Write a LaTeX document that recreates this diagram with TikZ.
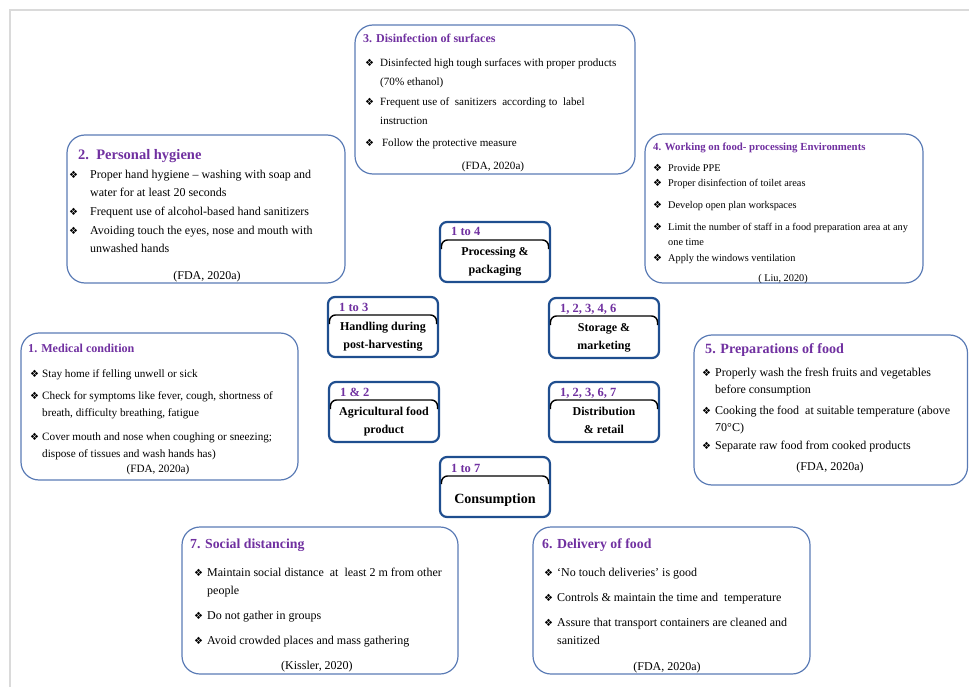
\documentclass[tikz,border=0pt]{standalone}
\usepackage{fontspec}
\setmainfont{Liberation Serif}
\newfontfamily\dingfont{DejaVu Sans}
\usepackage{xcolor}
\usetikzlibrary{positioning}
\definecolor{ttl}{HTML}{7030A0}
\definecolor{pnl}{HTML}{5A7BB5}
\definecolor{stg}{HTML}{1F4E8F}
\definecolor{frm}{HTML}{DADADA}
\newcommand{\dia}{{\dingfont\fontsize{10}{10}\selectfont\char"2756}}
\newcommand{\fs}[2]{\fontsize{#1}{#2}\selectfont}
\newcommand{\lines}[2]{\begin{tabular}[t]{@{}#1@{}}#2\end{tabular}}

\begin{document}
\begin{tikzpicture}[x=1pt,y=-1pt,
  panel/.style={draw=pnl,line width=1.2pt,rounded corners=18pt},
  ttlnode/.style={anchor=base west,inner sep=0pt,text=ttl,font=\bfseries#1},
  dia/.style={anchor=base west,inner sep=0pt},
  itm/.style={anchor=base west,inner sep=0pt,font=#1},
  src/.style={anchor=base,inner sep=0pt,font=#1},
  stage/.style={draw=stg,line width=2.2pt,rounded corners=7pt},
  sep/.style={draw=black,line width=1.4pt,rounded corners=6pt},
  lbl/.style={anchor=base west,inner sep=0pt,text=ttl,font=\bfseries\fs{12.5}{14}},
  stgname/.style={anchor=base,inner sep=0pt,font=\bfseries\fs{12}{18.5}}]
\useasboundingbox (0,0) rectangle (969,687);
\draw[frm,line width=1.5pt] (10,687) -- (10,10) -- (969,10);

% 3. DISINFECTION
\draw[panel] (355,25) rectangle (635,174);
\node[ttlnode=\fs{12}{14}] (p3h) at (363,43) {3. Disinfection of surfaces};
\foreach \k/\yy/\txt in {1/67/{Disinfected high tough surfaces with proper products\\(70\% ethanol)},
  2/106/{Frequent use of \ sanitizers \ according to \ label\\instruction},
  3/147/{\,Follow the protective measure}}{
  \node[dia] (p3b\k) at (365,\yy) {\dia};
  \node[itm=\fs{11.1}{18.5}] (p3t\k) at (380,\yy) {\lines{l}{\txt}};
}
\node[src=\fs{11.1}{14}] (p3s) at (493,170) {(FDA, 2020a)};

% 2. PERSONAL HYGIENE
\draw[panel] (67,135) rectangle (345,283);
\node[ttlnode=\fs{14.5}{16}] (p2h) at (78,160) {2.\ \ Personal hygiene};
\foreach \k/\yy/\txt in {1/179/{Proper hand hygiene -- washing with soap and\\water for at least 20 seconds},
  2/216/{Frequent use of alcohol-based hand sanitizers},
  3/234/{Avoiding touch the eyes, nose and mouth with\\unwashed hands}}{
  \node[dia] (p2b\k) at (69,\yy) {\dia};
  \node[itm=\fs{12}{18}] (p2t\k) at (90,\yy) {\lines{l}{\txt}};
}
\node[src=\fs{12}{14}] (p2s) at (207,279) {(FDA, 2020a)};

% 4. WORKING ENVIRONMENTS
\draw[panel] (645,134) rectangle (923,283);
\node[ttlnode=\fs{10.8}{12}] (p4h) at (653,151) {4. Working on food- processing Environments};
\foreach \k/\yy/\txt in {1/172/{Provide PPE},
  2/187/{Proper disinfection of toilet areas},
  3/209/{Develop open plan workspaces},
  4/231/{Limit the number of staff in a food preparation area at any\\one time},
  5/261/{Apply the windows ventilation}}{
  \node[dia] (p4b\k) at (653,\yy) {\dia};
  \node[itm=\fs{10.3}{14}] (p4t\k) at (668,\yy) {\lines{l}{\txt}};
}
\node[src=\fs{10.3}{12}] (p4s) at (783,281) {( Liu, 2020)};

% 1. MEDICAL CONDITION
\draw[panel] (21,333) rectangle (298,480);
\node[ttlnode=\fs{12.1}{14}] (p1h) at (28,352) {1. Medical condition};
\foreach \k/\yy/\txt in {1/377/{Stay home if felling unwell or sick},
  2/399/{Check for symptoms like fever, cough, shortness of\\breath, difficulty breathing, fatigue},
  3/440/{Cover mouth and nose when coughing or sneezing;\\dispose of tissues and wash hands has)}}{
  \node[dia] (p1b\k) at (30,\yy) {\dia};
  \node[itm=\fs{11.2}{17}] (p1t\k) at (42,\yy) {\lines{l}{\txt}};
}
\node[src=\fs{11.2}{13}] (p1s) at (158,472) {(FDA, 2020a)};

% 5. PREPARATIONS
\draw[panel] (694,335) rectangle (967.5,485);
\node[ttlnode=\fs{14.1}{16}] (p5h) at (705,353) {5. Preparations of food};
\foreach \k/\yy/\txt in {1/376/{Properly wash the fresh fruits and vegetables\\before consumption},
  2/414/{Cooking the food \ at suitable temperature (above\\70°C)},
  3/449/{Separate raw food from cooked products}}{
  \node[dia] (p5b\k) at (702,\yy) {\dia};
  \node[itm=\fs{12}{17}] (p5t\k) at (715,\yy) {\lines{l}{\txt}};
}
\node[src=\fs{12}{14}] (p5s) at (830,470) {(FDA, 2020a)};

% 7. SOCIAL DISTANCING
\draw[panel] (182,527) rectangle (458,674);
\node[ttlnode=\fs{13.8}{16}] (p7h) at (190,548) {7. Social distancing};
\foreach \k/\yy/\txt in {1/576/{Maintain social distance \ at \ least 2 m from other\\people},
  2/619/{Do not gather in groups},
  3/644/{Avoid crowded places and mass gathering}}{
  \node[dia] (p7b\k) at (194,\yy) {\dia};
  \node[itm=\fs{12}{18}] (p7t\k) at (207,\yy) {\lines{l}{\txt}};
}
\node[src=\fs{12}{14}] (p7s) at (317,669) {(Kissler, 2020)};

% 6. DELIVERY
\draw[panel] (533,527) rectangle (810,674);
\node[ttlnode=\fs{13.8}{16}] (p6h) at (542,548) {6. Delivery of food};
\foreach \k/\yy/\txt in {1/576/{`No touch deliveries' is good},
  2/601/{Controls \& maintain the time and \ temperature},
  3/626/{Assure that transport containers are cleaned and\\sanitized}}{
  \node[dia] (p6b\k) at (544,\yy) {\dia};
  \node[itm=\fs{12}{18}] (p6t\k) at (557,\yy) {\lines{l}{\txt}};
}
\node[src=\fs{12}{14}] (p6s) at (667,670) {(FDA, 2020a)};

% STAGES
\foreach \nm/\xa/\ya/\lbl/\txt in {proc/440/222/{1 to 4}/{Processing \&\\packaging},
  hand/328/297/{1 to 3}/{Handling during\\post-harvesting},
  stor/549/298/{1, 2, 3, 4, 6}/{Storage \&\\marketing},
  agri/329/382/{1 \& 2}/{Agricultural food\\product},
  dist/549/382/{1, 2, 3, 6, 7}/{Distribution\\\& retail}}{
  \draw[stage] (\xa,\ya) rectangle ++(110,60);
  \draw[sep] (\xa+1.5,\ya+27) -- (\xa+1.5,\ya+18) -- (\xa+108.5,\ya+18) -- (\xa+108.5,\ya+27);
  \node[lbl] (\nm-l) at (\xa+11,\ya+14) {\lbl};
  \node[stgname] (\nm-n) at (\xa+55,\ya+33) {\lines{c}{\txt}};
}
\draw[stage] (440,457) rectangle (550,517);
\draw[sep] (441.5,484) -- (441.5,476) -- (548.5,476) -- (548.5,484);
\node[lbl] (cons-l) at (451,472) {1 to 7};
\node[stgname,font=\bfseries\fs{14.1}{17}] (cons-n) at (495,503) {Consumption};
\end{tikzpicture}
\end{document}
